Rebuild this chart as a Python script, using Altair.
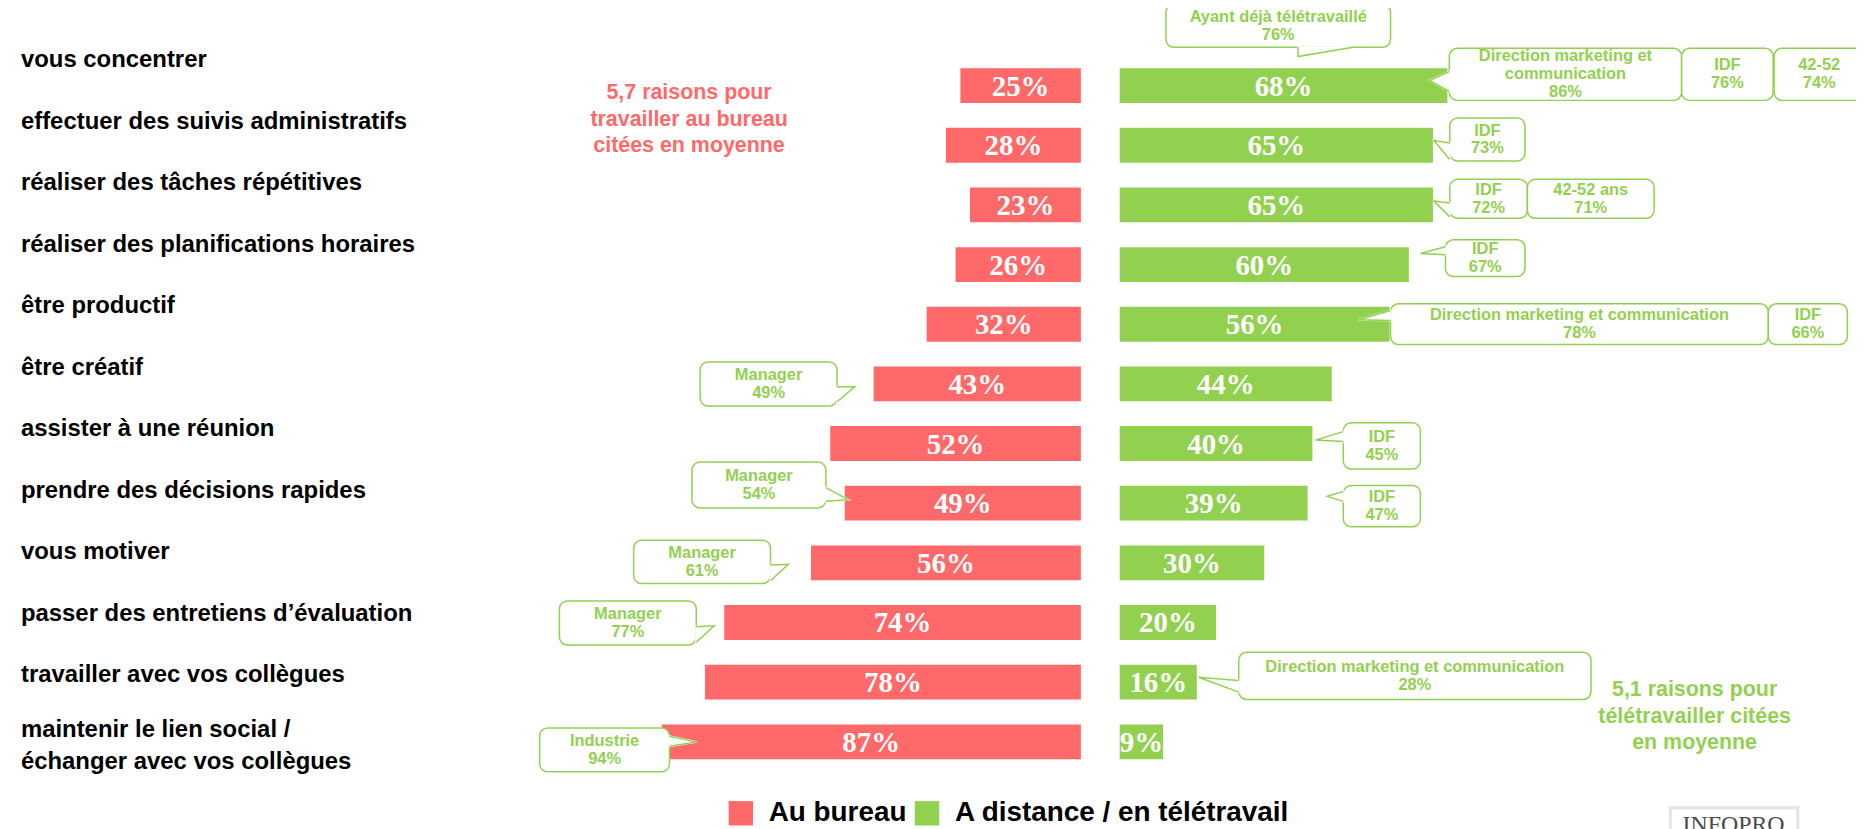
import altair as alt
import pandas as pd

# ---------------- data ----------------
categories = [
    "vous concentrer",
    "effectuer des suivis administratifs",
    "réaliser des tâches répétitives",
    "réaliser des planifications horaires",
    "être productif",
    "être créatif",
    "assister à une réunion",
    "prendre des décisions rapides",
    "vous motiver",
    "passer des entretiens d’évaluation",
    "travailler avec vos collègues",
    "maintenir le lien social /\néchanger avec vos collègues",
]
bureau = [25, 28, 23, 26, 32, 43, 52, 49, 56, 74, 78, 87]
distance = [68, 65, 65, 60, 56, 44, 40, 39, 30, 20, 16, 9]
series = ["Au bureau", "A distance / en télétravail"]

# call-outs (sub-population scores)
callout_side = ["R", "R", "R", "R", "R", "R", "R", "R", "R", "R", "R", "R", "R",
                "L", "L", "L", "L", "L"]
callout_group = ["Ayant déjà télétravaillé", "Direction marketing et\ncommunication", "IDF", "42-52",
                 "IDF", "IDF", "42-52 ans", "IDF", "Direction marketing et communication", "IDF",
                 "IDF", "IDF", "Direction marketing et communication",
                 "Manager", "Manager", "Manager", "Manager", "Industrie"]
callout_value = ["76%", "86%", "76%", "74%", "73%", "72%", "71%", "67%", "78%", "66%",
                 "45%", "47%", "28%", "49%", "54%", "61%", "77%", "94%"]

note_texts = ["5,7 raisons pour\ntravailler au bureau\ncitées en moyenne",
              "5,1 raisons pour\ntélétravailler citées\nen moyenne"]

# ---------------- layout (in scale units: % of each side, row index) ----------------
box_x0 = [9.6, 68.4, 116.6, 135.8, 68.5, 68.5, 84.6, 67.6, 56.2, 134.6, 46.4, 46.4, 24.7,
          50.6, 52.9, 64.4, 79.8, 85.35]
box_x1 = [56.2, 116.6, 135.6, 154.5, 84.1, 84.6, 110.9, 84.1, 134.6, 151.0, 62.4, 62.4, 97.8,
          79.0, 80.7, 92.8, 108.2, 112.3]
box_y0 = [-1.36, -0.626, -0.626, -0.626, 0.542, 1.571, 1.571, 2.584, 3.657, 3.657, 5.65, 6.702, 9.499,
          4.632, 6.311, 7.62, 8.638, 10.768]
box_y1 = [-0.643, 0.247, 0.247, 0.247, 1.265, 2.225, 2.225, 3.2, 4.341, 4.341, 6.428, 7.396, 10.29,
          5.371, 7.079, 8.348, 9.377, 11.502]
# tails: callout index, base point 1, tip, base point 2
tails = [
    (0, (37.0, -0.643), (37.0, -0.487), (48.4, -0.643)),
    (1, (68.4, -0.237), (64.3, -0.087), (68.4, 0.097)),
    (4, (68.5, 0.96), (65.2, 0.92), (68.5, 1.237)),
    (5, (68.5, 1.966), (65.2, 1.933), (68.5, 2.2)),
    (7, (67.6, 2.701), (62.4, 2.813), (67.6, 2.834)),
    (8, (56.2, 3.769), (49.5, 3.924), (56.2, 3.936)),
    (10, (46.4, 5.8), (40.7, 5.939), (46.4, 5.967)),
    (11, (46.4, 6.802), (43.1, 6.885), (46.4, 6.969)),
    (12, (24.7, 9.973), (16.4, 9.917), (24.7, 10.167)),
    (13, (50.6, 5.049), (46.9, 5.049), (50.6, 5.30)),
    (14, (52.9, 6.74), (48.3, 6.94), (52.9, 6.969)),
    (15, (64.4, 8.037), (60.7, 8.025), (64.4, 8.30)),
    (16, (79.8, 9.072), (76.1, 9.055), (79.8, 9.33)),
    (17, (85.35, 10.908), (79.8, 11.001), (85.35, 11.075)),
]
note_side = ["L", "R"]
note_x = [81.3, 119.3]
note_y = [0.232, 10.235]

RED = "#FF6969"
GREEN = "#92D050"
SANS = "Liberation Sans"
SERIF = "Liberation Serif"
ROW_STEP = 59.91          # px per row on the bar scale
CALLOUT_LH = 18.0         # callout line height (px)
PX_PER_PCT = 4.84

RED0, GREEN0 = 1077.5, 1116.5   # zero lines of the two half-axes (px)
RED_X = alt.Scale(domain=[0, 100], range=[RED0, RED0 - 100 * PX_PER_PCT], nice=False, zero=False)
GREEN_X = alt.Scale(domain=[0, 100], range=[GREEN0, GREEN0 + 100 * PX_PER_PCT], nice=False, zero=False)
BAND_Y = alt.Scale(domain=categories, range=[58.7, 752.7], paddingInner=0.4158, paddingOuter=0)
LABEL_Y = alt.Scale(domain=categories, range=[19.7, 761.1], paddingInner=0, paddingOuter=0)
ROW_Y = alt.Scale(domain=[0, 11], range=[76.2, 76.2 + 11 * ROW_STEP], nice=False, zero=False)


def xscale(side):
    return RED_X if side == "L" else GREEN_X


legend = alt.Legend(orient="none", legendX=722, legendY=793, direction="horizontal", title=None,
                    symbolType="square", symbolSize=600, symbolStrokeWidth=0, symbolOpacity=1,
                    labelFont=SANS, labelFontWeight="bold", labelFontSize=28, labelColor="black",
                    labelOffset=14, labelLimit=1000, columnPadding=6, padding=0)
color = alt.Color("serie:N", scale=alt.Scale(domain=series, range=[RED, GREEN]), legend=legend)

layers = []
for vals, side, serie in [(bureau, "L", series[0]), (distance, "R", series[1])]:
    df = pd.DataFrame({"cat": categories, "row": list(range(len(categories))), "v": vals, "serie": serie})
    base = alt.Chart(df)
    layers.append(base.mark_bar().encode(
        x=alt.X("v:Q", scale=xscale(side), axis=None),
        y=alt.Y("cat:N", scale=BAND_Y, axis=None, sort=None),
        color=color))
    layers.append(base.transform_calculate(mid="datum.v / 2", lab="datum.v + '%'").mark_text(
        font=SERIF, fontWeight="bold", fontSize=29, color="white", baseline="alphabetic", dy=10
    ).encode(
        x=alt.X("mid:Q", scale=xscale(side), axis=None),
        y=alt.Y("row:Q", scale=ROW_Y, axis=None),
        text="lab:N"))

# category labels (the wrapped last label sits slightly higher)
cat_df = pd.DataFrame({"cat": categories})
for cond, dy in [("indexof(datum.cat, '\\n') < 0", 0), ("indexof(datum.cat, '\\n') >= 0", -7)]:
    layers.append(alt.Chart(cat_df).transform_filter(cond).mark_text(
        align="left", baseline="middle", font=SANS, fontWeight="bold", fontSize=24, color="black",
        lineBreak="\n", lineHeight=32, dy=dy
    ).encode(x=alt.value(13), y=alt.Y("cat:N", scale=LABEL_Y, axis=None, sort=None), text="cat:N"))

# call-outs
txts = [g + "\n" + v for g, v in zip(callout_group, callout_value)]
nlines = [t.count("\n") + 1 for t in txts]
co = pd.DataFrame({
    "id": list(range(len(callout_group))), "side": callout_side, "txt": txts,
    "x0": box_x0, "x1": box_x1, "y0": box_y0, "y1": box_y1,
    "shift": [(n - 1) * CALLOUT_LH / 2 / ROW_STEP for n in nlines],
})
area_rows, line_rows = [], []
for idx, p1, t, p2 in tails:
    s = callout_side[idx]
    if abs(p1[0] - p2[0]) < 1e-9:
        area_rows.append({"id": idx, "side": s, "ax": p1[0], "ay": p1[1], "ay2": p2[1]})
        area_rows.append({"id": idx, "side": s, "ax": t[0], "ay": t[1], "ay2": t[1]})
    else:
        area_rows.append({"id": idx, "side": s, "ax": p1[0], "ay": p1[1], "ay2": t[1]})
        area_rows.append({"id": idx, "side": s, "ax": p2[0], "ay": p2[1], "ay2": p2[1]})
    for k, p in enumerate([p1, t, p2]):
        line_rows.append({"id": idx, "side": s, "k": k, "lx": p[0], "ly": p[1]})
areas = pd.DataFrame(area_rows)
lines = pd.DataFrame(line_rows)

for s in ["L", "R"]:
    sub = co[co.side == s]
    layers.append(alt.Chart(sub).mark_rect(fill="white", stroke=GREEN, strokeWidth=1.5, cornerRadius=8).encode(
        x=alt.X("x0:Q", scale=xscale(s), axis=None), x2="x1:Q",
        y=alt.Y("y0:Q", scale=ROW_Y, axis=None), y2="y1:Q"))
    layers.append(alt.Chart(areas[areas.side == s]).mark_area(
        fill="white", stroke="white", strokeWidth=2, orient="vertical", opacity=1
    ).encode(
        x=alt.X("ax:Q", scale=xscale(s), axis=None),
        y=alt.Y("ay:Q", scale=ROW_Y, axis=None, stack=None), y2="ay2:Q",
        detail="id:N"))
    layers.append(alt.Chart(lines[lines.side == s]).mark_line(color=GREEN, strokeWidth=1.5).encode(
        x=alt.X("lx:Q", scale=xscale(s), axis=None),
        y=alt.Y("ly:Q", scale=ROW_Y, axis=None),
        detail="id:N", order="k:Q"))
    layers.append(alt.Chart(sub).transform_calculate(
        cx="(datum.x0 + datum.x1) / 2", cy="(datum.y0 + datum.y1) / 2 - datum.shift"
    ).mark_text(font=SANS, fontWeight="bold", fontSize=16.5, color=GREEN, align="center",
                baseline="middle", lineBreak="\n", lineHeight=CALLOUT_LH).encode(
        x=alt.X("cx:Q", scale=xscale(s), axis=None),
        y=alt.Y("cy:Q", scale=ROW_Y, axis=None),
        text="txt:N"))

# average-count notes
for i, s in enumerate(note_side):
    nd = pd.DataFrame({"txt": [note_texts[i]], "nx": [note_x[i]], "ny": [note_y[i]]})
    layers.append(alt.Chart(nd).mark_text(
        font=SANS, fontWeight="bold", fontSize=21.5, color=RED if s == "L" else GREEN,
        align="center", baseline="alphabetic", lineBreak="\n", lineHeight=26.5
    ).encode(x=alt.X("nx:Q", scale=xscale(s), axis=None),
             y=alt.Y("ny:Q", scale=ROW_Y, axis=None), text="txt:N"))

# publisher logo (partially visible at the bottom edge)
logo = pd.DataFrame({"t": ["INFOPRO"]})
layers.append(alt.Chart(logo).mark_rect(fill="#d9d9d9", opacity=0.7).encode(
    x=alt.value(1668), x2=alt.value(1799), y=alt.value(800), y2=alt.value(850)))
layers.append(alt.Chart(logo).mark_rect(fill="white").encode(
    x=alt.value(1671), x2=alt.value(1796), y=alt.value(803), y2=alt.value(850)))
layers.append(alt.Chart(logo).mark_text(
    font=SERIF, fontSize=24, color="#4a4a4a", align="center", baseline="alphabetic"
).encode(x=alt.value(1733), y=alt.value(826), text="t:N"))

chart = alt.layer(*layers).resolve_scale(x="independent", y="independent").properties(
    width=1856, height=821, padding=0,
    autosize=alt.AutoSizeParams(type="none"),
    background="white",
).configure_view(stroke=None)

chart.save("out.html", embed_options={"renderer": "svg", "actions": False})
